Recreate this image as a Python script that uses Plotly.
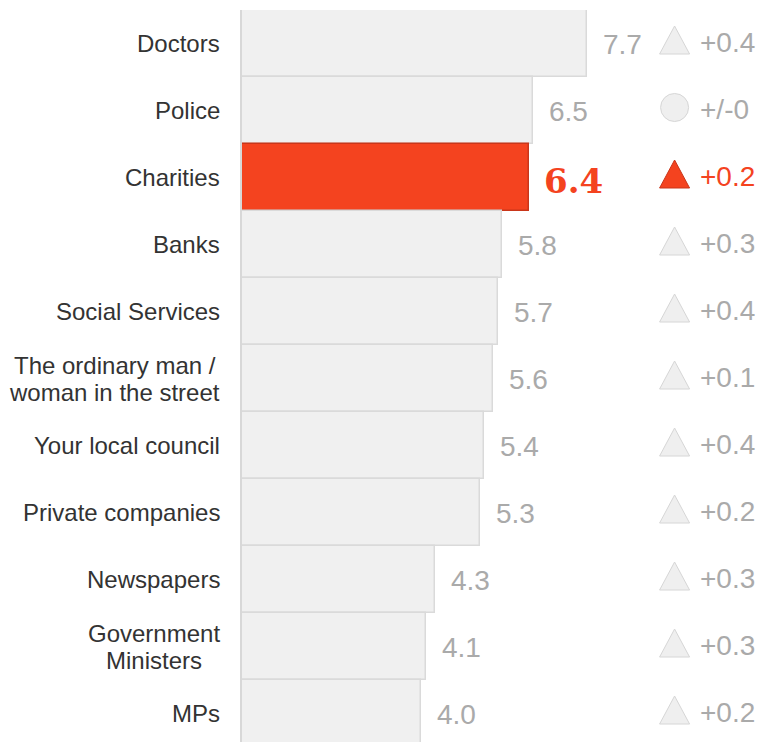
import plotly.graph_objects as go

# Trust scores by institution, with change since the previous wave
categories = [
    "Doctors", "Police", "Charities", "Banks", "Social Services",
    "The ordinary man /<br>woman in the street", "Your local council",
    "Private companies", "Newspapers", "Government<br>Ministers", "MPs",
]
scores = [7.7, 6.5, 6.4, 5.8, 5.7, 5.6, 5.4, 5.3, 4.3, 4.1, 4.0]
changes = [0.4, 0.0, 0.2, 0.3, 0.4, 0.1, 0.4, 0.2, 0.3, 0.3, 0.2]
highlight = "Charities"

RED = "#F4431F"
RED_EDGE = "#C9361A"
GREY_FILL = "#F0F0F0"
GREY_EDGE = "#DADADA"
VALUE_GREY = "#AAAAAA"
LABEL_COLOR = "#333333"
MARK_X = 9.65  # column holding the change markers

bar_fill = [RED if c == highlight else GREY_FILL for c in categories]
bar_edge = [RED_EDGE if c == highlight else GREY_EDGE for c in categories]

fig = go.Figure()
fig.add_trace(go.Bar(
    x=scores, y=categories, orientation="h",
    marker=dict(color=bar_fill, line=dict(color=bar_edge, width=1.5)),
    hoverinfo="skip",
))


def change_label(v):
    return "+/-0" if v == 0 else f"+{v:.1f}"


shapes = []
annotations = []
for cat, s, ch in zip(categories, scores, changes):
    hl = cat == highlight
    fill = RED if hl else "#EFEFEF"
    edge = RED_EDGE if hl else "#D6D6D6"

    # change marker: triangle for a rise, circle for no change (pixel-sized,
    # anchored on the marker column of the row)
    common = dict(xref="x", yref="y", xsizemode="pixel", ysizemode="pixel",
                  xanchor=MARK_X, yanchor=cat, fillcolor=fill,
                  line=dict(color=edge, width=1), layer="above")
    if ch == 0:
        shapes.append(dict(type="circle", x0=-14, x1=14, y0=-11, y1=17, **common))
    else:
        shapes.append(dict(type="path", path="M-15,-10.5 L15,-10.5 L0,17.5 Z", **common))

    # category label to the left of the bars
    annotations.append(dict(
        x=0, xref="paper", y=cat, yref="y", xanchor="right", yanchor="middle",
        xshift=-20, showarrow=False, align="center",
        text=f'<span style="font-size:24px">{cat}</span>',
        font=dict(family="Liberation Sans, Arial", size=21, color=LABEL_COLOR),
    ))
    # score at the end of each bar
    if hl:
        font = dict(family="DejaVu Serif", size=34, color=RED, weight="bold")
        shift, yshift = 13, -3
    else:
        font = dict(family="Liberation Sans, Arial", size=28, color=VALUE_GREY)
        shift, yshift = 14, -1
    annotations.append(dict(
        x=s, y=cat, xref="x", yref="y", xanchor="left", yanchor="middle",
        xshift=shift, yshift=yshift, text=f"{s:.1f}", showarrow=False, font=font,
    ))
    # change figure beside its marker
    annotations.append(dict(
        x=MARK_X, y=cat, xref="x", yref="y", xanchor="left", yanchor="middle",
        xshift=23, yshift=1, text=change_label(ch), showarrow=False,
        font=dict(family="Liberation Sans, Arial", size=28,
                  color=RED if hl else VALUE_GREY),
    ))

fig.update_layout(
    width=762, height=742,
    margin=dict(l=242, r=0, t=10, b=0),
    paper_bgcolor="white", plot_bgcolor="white",
    bargap=0, showlegend=False,
    shapes=shapes, annotations=annotations,
    xaxis=dict(range=[0, 11.6], visible=False, fixedrange=True),
    yaxis=dict(
        categoryorder="array", categoryarray=categories,
        range=[10.425, -0.5], showticklabels=False, showgrid=False,
        zeroline=False, showline=True, linecolor="#D8D8D8", linewidth=2,
        ticks="", fixedrange=True,
    ),
)

fig.write_html("out.html")
